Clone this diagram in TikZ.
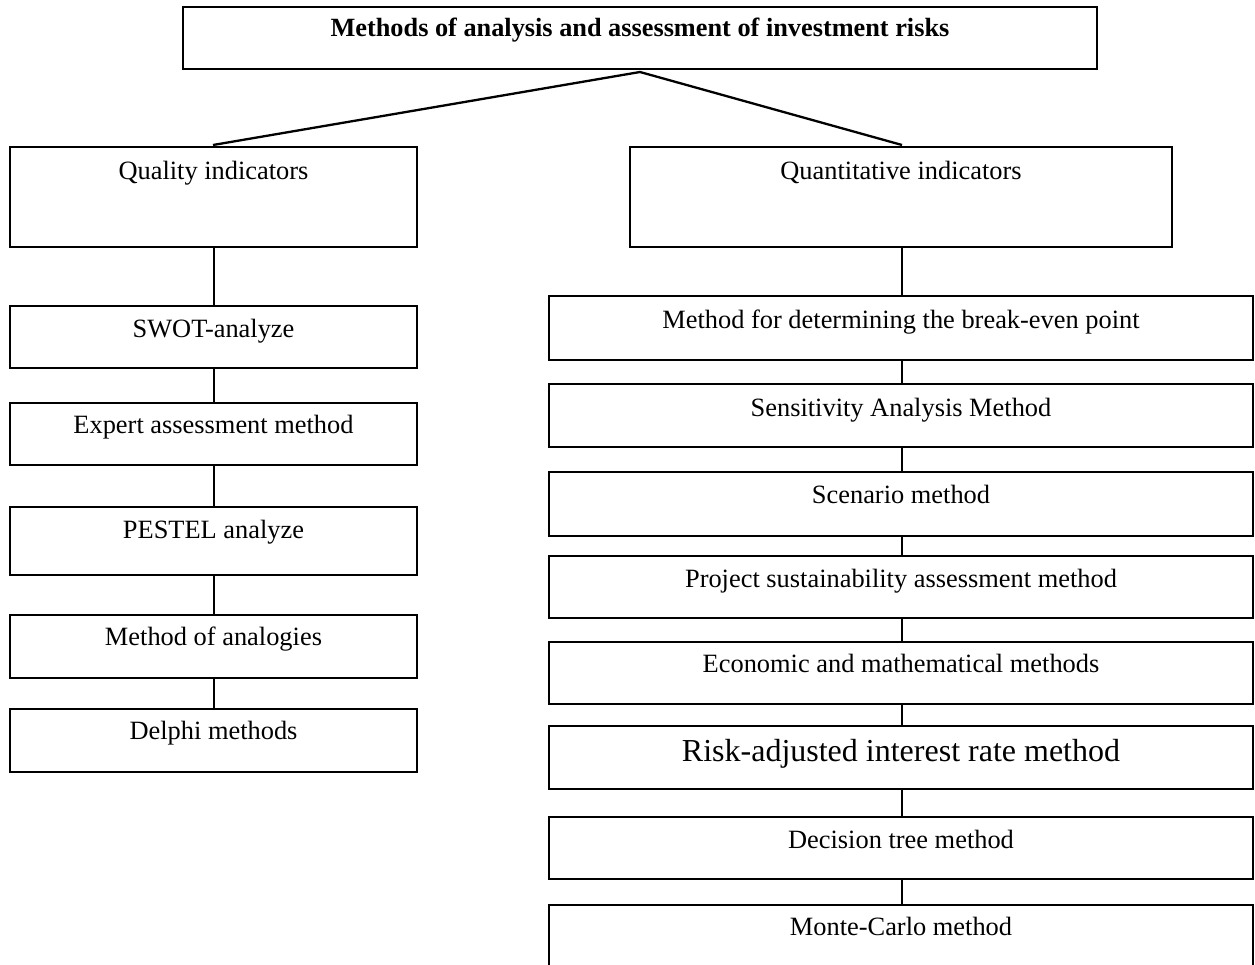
\documentclass[tikz,border=0pt]{standalone}
\usepackage{fontspec}
\setmainfont{Liberation Serif}
\begin{document}
\begin{tikzpicture}[x=1pt,y=-1pt,
  boxst/.style={draw=black,line width=2.3pt,rectangle,inner sep=0pt,outer sep=0pt},
  lbl/.style={anchor=base,inner sep=0pt,font=\fontsize{26.4}{30}\selectfont},
  bigl/.style={anchor=base,inner sep=0pt,font=\fontsize{32}{36}\selectfont},
  ttl/.style={anchor=base,inner sep=0pt,font=\fontsize{26.3}{30}\selectfont\bfseries},
  conn/.style={draw=black,line width=2.3pt}]
\useasboundingbox (0,0) rectangle (1255,964);
\clip (0,0) rectangle (1255,964);
\fill[white] (0,0) rectangle (1255,964);
% top
\node[boxst,minimum width=914pt,minimum height=62pt] (top) at (640,38) {};
\node[ttl] (toptxt) at (640,36) {Methods of analysis and assessment of investment risks};
\coordinate (j) at (640,72);
% level 2
\node[boxst,minimum width=407pt,minimum height=100pt] (qual) at (213.5,197) {};
\node[lbl] (qualtxt) at (213.5,179) {Quality indicators};
\node[boxst,minimum width=542pt,minimum height=100pt] (quant) at (901,197) {};
\node[lbl] (quanttxt) at (901,179) {Quantitative indicators};
\coordinate (qa) at (213,145);
\coordinate (qb) at (902,145);
\draw[conn] (qa) -- (j) -- (qb);
% left column
\foreach \nm/\ya/\yb/\bs/\tx in {
  swot/306/368/337/{SWOT-analyze},
  expert/403/465/433/{Expert assessment method},
  pestel/507/575/538/{PESTEL analyze},
  analog/615/678/645/{Method of analogies},
  delphi/709/772/739/{Delphi methods}}{
  \node[boxst,minimum width=407pt,minimum height={\yb-\ya}] (\nm) at (213.5,{(\ya+\yb)/2}) {};
  \node[lbl] (\nm txt) at (213.5,\bs) {\tx};
}
\draw[conn] (qual.south -| 214,0) -- (swot.north -| 214,0);
\draw[conn] (swot.south -| 214,0) -- (expert.north -| 214,0);
\draw[conn] (expert.south -| 214,0) -- (pestel.north -| 214,0);
\draw[conn] (pestel.south -| 214,0) -- (analog.north -| 214,0);
\draw[conn] (analog.south -| 214,0) -- (delphi.north -| 214,0);
% right column
\foreach \nm/\ya/\yb/\bs/\tx in {
  be/296/360/328/{Method for determining the break-even point},
  sens/384/447/416/{Sensitivity Analysis Method},
  scen/472/536/503/{Scenario method},
  proj/556/618/587/{Project sustainability assessment method},
  econ/642/704/672/{Economic and mathematical methods},
  dec/817/879/848/{Decision tree method},
  monte/905/1010/935/{Monte-Carlo method}}{
  \node[boxst,minimum width=704pt,minimum height={\yb-\ya}] (\nm) at (901,{(\ya+\yb)/2}) {};
  \node[lbl] (\nm txt) at (901,\bs) {\tx};
}
\node[boxst,minimum width=704pt,minimum height=63pt] (risk) at (901,757.5) {};
\node[bigl] (risktxt) at (901,761) {Risk-adjusted interest rate method};
\draw[conn] (quant.south -| 902,0) -- (be.north -| 902,0);
\draw[conn] (be.south -| 902,0) -- (sens.north -| 902,0);
\draw[conn] (sens.south -| 902,0) -- (scen.north -| 902,0);
\draw[conn] (scen.south -| 902,0) -- (proj.north -| 902,0);
\draw[conn] (proj.south -| 902,0) -- (econ.north -| 902,0);
\draw[conn] (econ.south -| 902,0) -- (risk.north -| 902,0);
\draw[conn] (risk.south -| 902,0) -- (dec.north -| 902,0);
\draw[conn] (dec.south -| 902,0) -- (monte.north -| 902,0);
\end{tikzpicture}
\end{document}
